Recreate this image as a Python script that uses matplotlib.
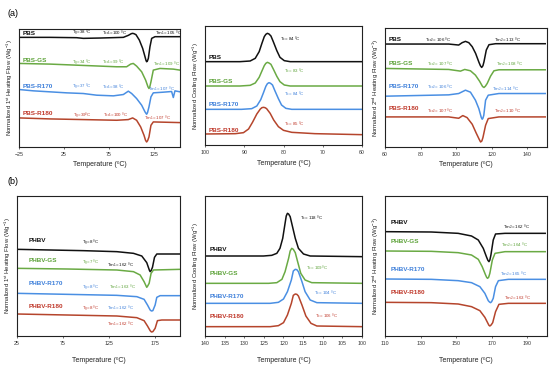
import matplotlib
matplotlib.use("Agg")
import matplotlib.pyplot as plt

plt.rcParams["font.family"] = ["Liberation Sans", "DejaVu Sans"]
plt.rcParams["mathtext.fontset"] = "custom"
plt.rcParams["mathtext.rm"] = "Liberation Sans"
plt.rcParams["mathtext.it"] = "Liberation Sans"

colors = ["#111111", "#6aaa44", "#4a8fe3", "#b5452c"]
text_colors = ["#111111", "#5ea33a", "#3f80da", "#c0392b"]

pbs_names = ["PBS", "PBS-GS", "PBS-R170", "PBS-R180"]
phbv_names = ["PHBV", "PHBV-GS", "PHBV-R170", "PHBV-R180"]

# ---- (a) PBS, 1st heating ----
a1_temp = [
    [-25, 9.4, 38.9, 46.3, 64.8, 90.7, 96.2, 99.5, 101.0, 102.5, 104.7, 108.4, 112.1, 114.7, 115.8, 116.5, 117.3, 118.4, 120.2, 122.1, 125.8, 138.7, 153.5],
    [-25, 9.4, 46.3, 83.3, 94.3, 98.8, 101.7, 105.4, 111.0, 115.4, 118.0, 119.1, 120.0, 121.3, 123.9, 131.3, 146.1, 153.5],
    [-25, -9.1, 9.4, 27.8, 46.3, 61.1, 79.6, 90.7, 96.2, 99.9, 105.4, 111.0, 114.7, 115.7, 116.5, 117.5, 119.1, 121.3, 123.9, 135.0, 144.2, 146.1, 147.9, 153.5],
    [-25, 9.4, 46.3, 83.3, 96.2, 101.0, 105.4, 109.9, 113.6, 115.3, 116.5, 117.6, 119.1, 121.3, 123.9, 153.5],
]
a1_flow = [
    [328, 328, 327, 325, 326, 328, 334, 339, 340, 339, 336, 320, 295, 270, 259, 255, 257, 265, 300, 325, 330, 330, 330],
    [250, 248, 244, 240, 240, 248, 250, 242, 225, 200, 180, 175, 180, 195, 230, 235, 233, 230],
    [172, 168, 165, 162, 160, 155, 153, 157, 167, 160, 145, 125, 105, 101, 98, 103, 120, 150, 162, 164, 166, 148, 168, 165],
    [87, 84, 82, 80, 82, 87, 80, 60, 35, 20, 15, 19, 30, 65, 75, 73],
]
a1_notes = [
    ["T$_g$=38 ºC", "T$_{cc1}$=100 ºC", "Tm$_1$= 105 ºC"],
    ["T$_g$=34 ºC", "T$_{cc1}$=99 ºC", "Tm$_1$= 109 ºC"],
    ["T$_g$=37 ºC", "T$_{cc1}$=98 ºC", "Tm$_1$= 107 ºC"],
    ["T$_g$=39ºC", "T$_{cc1}$=100 ºC", "Tm$_1$= 107 ºC"],
]
a1_note_xy = [
    [(33.4, 343), (66.6, 342), (125.8, 341)],
    [(33.4, 255), (66.6, 255), (123.9, 250)],
    [(33.4, 182), (66.6, 180), (118.4, 175)],
    [(35.2, 95), (68.5, 98), (113.6, 88)],
]
a1_name_y = [341, 260, 180, 100]

# ---- (a) PBS, cooling ----
a2_temp = [
    [100, 91.1, 88.5, 87.2, 86.2, 85.5, 84.9, 84.5, 84.1, 83.7, 83.2, 82.6, 81.7, 80.9, 79.8, 78.3, 60],
    [100, 91.1, 88.5, 87.2, 86.2, 85.5, 84.9, 84.5, 84.1, 83.7, 83.2, 82.6, 81.7, 80.9, 79.8, 78.3, 60],
    [100, 90.7, 88.1, 86.8, 85.8, 85.1, 84.5, 84.1, 83.7, 83.3, 82.8, 82.2, 81.3, 80.5, 79.4, 77.9, 60],
    [100, 92.3, 90.2, 88.9, 87.9, 86.8, 85.9, 85.5, 85.1, 84.7, 84.3, 83.4, 82.5, 81.3, 80.0, 77.9, 72, 60],
]
a2_flow = [
    [250, 250, 252, 260, 280, 305, 325, 332, 335, 333, 327, 310, 283, 263, 253, 250, 250],
    [177, 177, 179, 186, 203, 222, 238, 245, 248, 246, 242, 228, 206, 190, 180, 177, 177],
    [107, 107, 109, 117, 136, 157, 176, 184, 187, 185, 180, 163, 139, 120, 110, 107, 107],
    [33, 34, 37, 48, 68, 93, 108, 112, 113, 112, 109, 95, 75, 55, 44, 38, 34, 31],
]
a2_notes = ["T$_c$= 84 ºC", "T$_c$= 83 ºC", "T$_c$= 84 ºC", "T$_c$= 85 ºC"]
a2_note_xy = [(80.9, 320), (79.8, 222), (79.8, 153), (80.0, 63)]
a2_name_y = [263, 190, 123, 43]

# ---- (a) PBS, 2nd heating ----
a3_temp = [
    [60, 95.8, 101.4, 103.3, 105.2, 107.1, 109.0, 110.9, 112.8, 113.6, 114.3, 115.0, 115.6, 116.9, 118.4, 122.1, 150],
    [60, 95.8, 102.4, 104.8, 108.0, 110.8, 113.1, 114.8, 115.6, 116.4, 117.4, 119.3, 121.2, 124.0, 150],
    [60, 95.8, 101.4, 105.2, 108.0, 110.8, 112.7, 114.1, 114.6, 115.0, 115.5, 116.5, 118.0, 124.0, 150],
    [60, 95.8, 101.4, 103.7, 106.1, 109.0, 111.2, 113.0, 113.7, 114.4, 115.0, 116.5, 118.0, 124.0, 150],
]
a3_flow = [
    [308, 308, 305, 312, 316, 312, 300, 280, 253, 243, 238, 243, 255, 290, 306, 309, 309],
    [235, 232, 227, 232, 228, 215, 197, 181, 178, 182, 190, 212, 228, 231, 231],
    [152, 156, 160, 170, 164, 140, 115, 88, 83, 86, 95, 140, 155, 160, 160],
    [90, 90, 86, 94, 88, 68, 42, 22, 15, 18, 28, 65, 85, 90, 90],
]
a3_notes = [
    ["T$_{cc2}$= 106 ºC", "Tm$_2$= 113 ºC"],
    ["T$_{cc2}$= 107 ºC", "Tm$_2$= 108 ºC"],
    ["T$_{cc2}$= 106 ºC", "Tm$_2$= 114 ºC"],
    ["T$_{cc2}$= 107 ºC", "Tm$_2$= 110 ºC"],
]
a3_note_xy = [
    [(82.6, 322), (121.2, 322)],
    [(83.5, 250), (122.1, 248)],
    [(83.5, 180), (120.2, 175)],
    [(83.5, 110), (121.2, 110)],
]
a3_name_y = [322, 250, 180, 115]

# ---- (b) PHBV, 1st heating ----
b1_temp = [
    [25, 61.1, 97.3, 133.4, 151.5, 160.5, 165.9, 168.8, 169.6, 170.6, 172.1, 174.3, 176.8, 202],
    [25, 79.2, 133.4, 151.5, 158.7, 163.0, 165.2, 165.9, 166.7, 168.5, 170.6, 173.2, 202],
    [25, 79.2, 133.4, 155.1, 163.0, 166.7, 169.6, 171.0, 172.5, 175.0, 176.8, 180.4, 202],
    [25, 79.2, 133.4, 155.1, 163.0, 166.7, 169.6, 171.0, 172.5, 175.0, 177.5, 182.2, 202],
]
b1_flow = [
    [260, 258, 256, 253, 248, 240, 220, 197, 193, 196, 206, 236, 246, 246],
    [203, 201, 198, 193, 183, 163, 150, 146, 149, 158, 188, 198, 200],
    [128, 125, 122, 118, 110, 93, 78, 75, 76, 93, 116, 121, 121],
    [66, 63, 60, 55, 46, 30, 16, 12, 13, 23, 46, 48, 48],
]
b1_notes = [
    ["T$_g$=8 ºC", "Tm$_1$= 162 ºC"],
    ["T$_g$=7 ºC", "Tm$_1$= 163 ºC"],
    ["T$_g$=8 ºC", "Tm$_1$= 162 ºC"],
    ["T$_g$=8 ºC", "Tm$_1$= 162 ºC"],
]
b1_note_xy = [
    [(95.5, 283), (122.6, 213)],
    [(95.5, 223), (124.4, 148)],
    [(95.5, 148), (122.6, 86)],
    [(95.5, 85), (122.6, 36)],
]
b1_name_y = [286, 228, 158, 90]

# ---- (b) PHBV, cooling ----
b2_temp = [
    [140, 125.1, 123.0, 121.7, 120.9, 120.2, 119.6, 119.3, 119.0, 118.7, 118.3, 117.7, 117.0, 116.2, 114.9, 113.2, 100],
    [140, 123.8, 121.7, 120.4, 119.6, 118.7, 118.3, 117.9, 117.5, 117.0, 116.4, 115.6, 114.5, 112.8, 100],
    [140, 123.4, 121.3, 120.0, 119.0, 118.0, 117.5, 117.0, 116.6, 116.2, 115.3, 114.5, 113.2, 111.5, 100],
    [140, 123.4, 121.3, 120.0, 119.0, 118.0, 117.5, 117.0, 116.6, 116.2, 115.3, 114.3, 113.0, 111.5, 100],
]
b2_flow = [
    [240, 240, 242, 248, 263, 293, 338, 360, 368, 366, 358, 328, 293, 263, 246, 240, 238],
    [158, 158, 160, 170, 193, 233, 255, 263, 260, 250, 223, 188, 168, 160, 158],
    [98, 98, 101, 111, 133, 168, 195, 200, 199, 193, 163, 133, 108, 100, 98],
    [28, 28, 31, 40, 63, 98, 122, 126, 125, 120, 93, 60, 38, 30, 28],
]
b2_notes = ["T$_c$= 118 ºC", "T$_c$= 109ºC", "T$_c$= 104 ºC", "T$_c$= 106 ºC"]
b2_note_xy = [(115.7, 356), (114.2, 206), (112.2, 130), (111.9, 60)]
b2_name_y = [260, 188, 120, 60]

# ---- (b) PHBV, 2nd heating ----
b3_temp = [
    [110, 136.0, 151.1, 158.6, 162.4, 165.2, 167.1, 167.8, 168.4, 168.9, 169.5, 170.8, 172.1, 177.4, 200],
    [110, 136.0, 151.1, 158.6, 162.4, 164.6, 166.5, 167.1, 167.6, 168.2, 168.9, 170.3, 171.8, 177.4, 200],
    [110, 136.0, 151.1, 158.6, 163.3, 166.1, 168.0, 168.7, 169.3, 169.9, 170.8, 172.1, 173.7, 179.3, 200],
    [110, 136.0, 151.1, 158.6, 163.3, 166.1, 168.0, 168.4, 168.9, 169.6, 170.5, 172.1, 174.0, 179.3, 200],
]
b3_flow = [
    [313, 312, 308, 300, 288, 263, 236, 227, 223, 228, 243, 288, 306, 308, 308],
    [255, 254, 250, 243, 230, 208, 183, 176, 173, 176, 188, 228, 248, 253, 253],
    [171, 170, 166, 160, 148, 128, 106, 102, 100, 103, 113, 148, 166, 170, 170],
    [101, 100, 96, 88, 76, 56, 36, 32, 30, 33, 40, 73, 95, 98, 98],
]
b3_notes = ["Tm$_2$= 162 ºC", "Tm$_2$= 164 ºC", "Tm$_2$= 165 ºC", "Tm$_2$= 163 ºC"]
b3_note_xy = [(176.5, 328), (175.2, 273), (174.6, 186), (177.0, 116)]
b3_name_y = [340, 283, 200, 130]

W, H = 550, 367


def px_axes(fig, left, top, right, bottom):
    return fig.add_axes([left / W, 1 - bottom / H, (right - left) / W, (bottom - top) / H])


def style(ax, xlim, ylim, xticks, ylabel, xpad):
    ax.set_xlim(*xlim)
    ax.set_ylim(*ylim)
    ax.set_xticks(xticks)
    ax.set_yticks([])
    ax.tick_params(axis="x", labelsize=3.8, length=1.5, width=0.5, pad=2, colors="#333333")
    for s in ax.spines.values():
        s.set_linewidth(0.8)
        s.set_color("#222222")
    ax.set_xlabel("Temperature (ºC)", fontsize=5, labelpad=xpad, color="#222222")
    ax.set_ylabel(ylabel, fontsize=4.3, labelpad=3, color="#222222")


def draw(ax, temps, flows, names, name_x, name_y):
    for i in range(4):
        ax.plot(temps[i], flows[i], color=colors[i], lw=1.1, solid_joinstyle="round")
        ax.text(name_x, name_y[i], names[i], color=text_colors[i], fontsize=4.6,
                fontweight="bold", ha="left", va="center")


fig = plt.figure(figsize=(5.5, 3.67), dpi=100)

lab1 = "Normalized 1$^{st}$ Heating Flow (Wg$^{-1}$)"
labc = "Normalized Cooling Flow (Wg$^{-1}$)"
lab2 = "Normalized 2$^{nd}$ Heating Flow (Wg$^{-1}$)"

ax = px_axes(fig, 19, 29, 180, 147)
draw(ax, a1_temp, a1_flow, pbs_names, -21, a1_name_y)
for i in range(4):
    for t, (x, y) in zip(a1_notes[i], a1_note_xy[i]):
        ax.text(x, y, t, color=text_colors[i], fontsize=3.2, ha="left", va="center")
style(ax, (-25, 153.5), (0, 353), [-25, 25, 75, 125], lab1, 3)

ax = px_axes(fig, 205, 26, 362, 145)
draw(ax, a2_temp, a2_flow, pbs_names, 99.1, a2_name_y)
for i in range(4):
    ax.text(*a2_note_xy[i], a2_notes[i], color=text_colors[i], fontsize=3.2, ha="left", va="center")
style(ax, (100, 60), (0, 357), [100, 90, 80, 70, 60], labc, 4)

ax = px_axes(fig, 385, 28, 547, 147)
draw(ax, a3_temp, a3_flow, pbs_names, 61.9, a3_name_y)
for i in range(4):
    for t, (x, y) in zip(a3_notes[i], a3_note_xy[i]):
        ax.text(x, y, t, color=text_colors[i], fontsize=3.2, ha="left", va="center")
style(ax, (60, 151), (0, 356), [60, 80, 100, 120, 140], lab2, 3)

ax = px_axes(fig, 17, 196, 180, 336)
draw(ax, b1_temp, b1_flow, phbv_names, 37.6, b1_name_y)
for i in range(4):
    for t, (x, y) in zip(b1_notes[i], b1_note_xy[i]):
        ax.text(x, y, t, color=text_colors[i], fontsize=3.2, ha="left", va="center")
style(ax, (25, 202), (0, 420), [25, 75, 125, 175], lab1, 8)

ax = px_axes(fig, 205, 196, 362, 336)
draw(ax, b2_temp, b2_flow, phbv_names, 138.7, b2_name_y)
for i in range(4):
    ax.text(*b2_note_xy[i], b2_notes[i], color=text_colors[i], fontsize=3.2, ha="left", va="center")
style(ax, (140, 100), (0, 420), list(range(140, 99, -5)), labc, 8)

ax = px_axes(fig, 385, 196, 547, 336)
draw(ax, b3_temp, b3_flow, phbv_names, 113.4, b3_name_y)
for i in range(4):
    ax.text(*b3_note_xy[i], b3_notes[i], color=text_colors[i], fontsize=3.2, ha="left", va="center")
style(ax, (110, 201), (0, 420), [110, 130, 150, 170, 190], lab2, 8)

fig.text(7 / W, 1 - 13 / H, "(a)", fontsize=6.5, ha="left", va="center")
fig.text(7 / W, 1 - 182 / H, "(b)", fontsize=6.5, ha="left", va="center")

fig.savefig("out.png", dpi=100)
